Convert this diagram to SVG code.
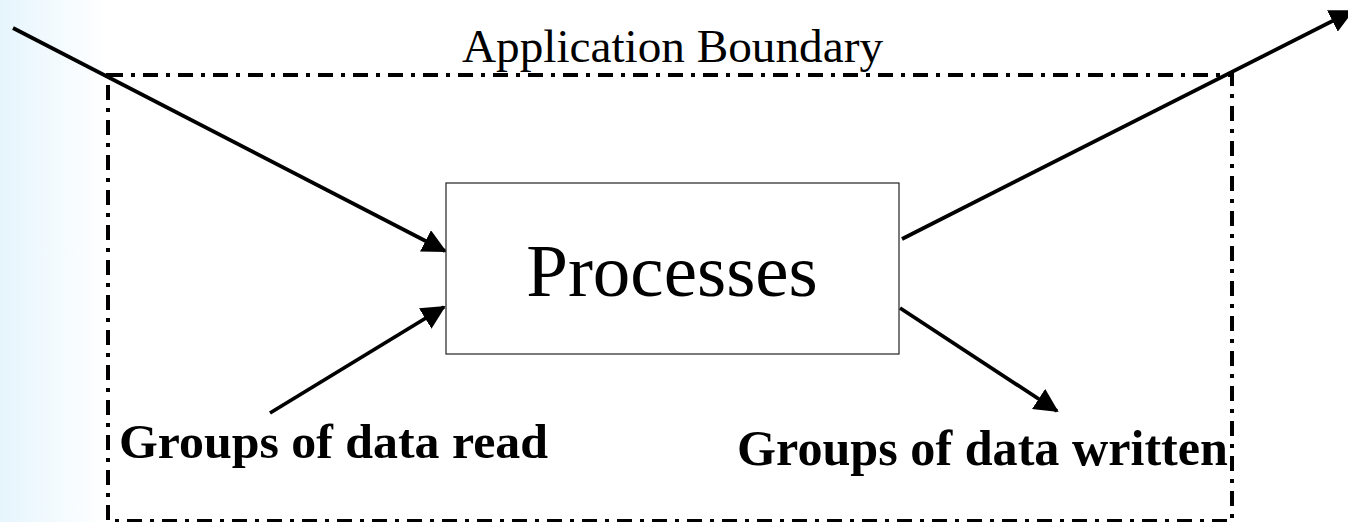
<svg xmlns="http://www.w3.org/2000/svg" width="1348" height="522" viewBox="0 0 1348 522">
  <defs>
    <linearGradient id="bg" x1="0" y1="0" x2="1" y2="0">
      <stop offset="0" stop-color="#e6f5fd"/>
      <stop offset="1" stop-color="#ffffff"/>
    </linearGradient>
    <marker id="arrow" viewBox="0 0 24 24" refX="22" refY="12" markerWidth="24" markerHeight="24" markerUnits="userSpaceOnUse" orient="auto">
      <path d="M0,0 L24,12 L0,24 Z" fill="#000"/>
    </marker>
    <style>
      .boundary { fill: none; stroke: #000; stroke-width: 4; stroke-dasharray: 15 8 4 8; }
      .conn { stroke: #000; stroke-width: 3.8; fill: none; marker-end: url(#arrow); }
      .box { fill: #fff; stroke: #222; stroke-width: 1.2; }
      .serif { font-family: "Liberation Serif", "Times New Roman", serif; fill: #000; }
      .bold { font-weight: bold; }
    </style>
  </defs>
  <rect x="0" y="0" width="1348" height="522" fill="#fff"/>
  <rect x="0" y="0" width="108" height="522" fill="url(#bg)"/>

  <g id="boundary">
    <rect class="boundary" x="108" y="75" width="1124" height="446"/>
    <text class="serif" x="462" y="62" font-size="47" textLength="421" lengthAdjust="spacingAndGlyphs">Application Boundary</text>
  </g>

  <g id="connectors">
    <line class="conn" x1="13" y1="28" x2="445" y2="251"/>
    <line class="conn" x1="270" y1="413" x2="444" y2="307"/>
    <line class="conn" x1="902" y1="239" x2="1352" y2="11"/>
    <line class="conn" x1="900" y1="308" x2="1057" y2="411"/>
  </g>

  <g id="processes">
    <rect class="box" x="446" y="183" width="453" height="171"/>
    <text class="serif" x="672" y="296" font-size="75" text-anchor="middle">Processes</text>
  </g>

  <g id="data-read">
    <text class="serif bold" x="119" y="458" font-size="49" textLength="429" lengthAdjust="spacingAndGlyphs">Groups of data read</text>
  </g>

  <g id="data-written">
    <text class="serif bold" x="737" y="465" font-size="50" textLength="491" lengthAdjust="spacingAndGlyphs">Groups of data written</text>
  </g>
</svg>
